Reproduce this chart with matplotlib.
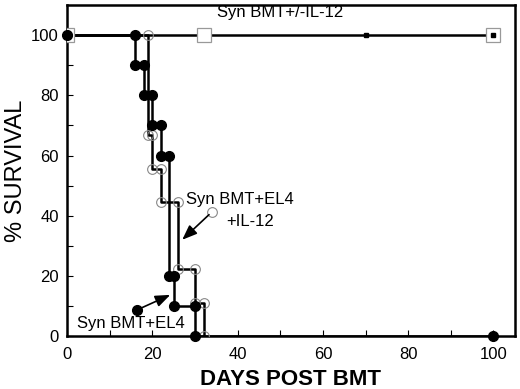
import matplotlib
matplotlib.use("Agg")
import matplotlib.pyplot as plt
import numpy as np

plt.rcParams['font.family'] = ['Liberation Sans', 'DejaVu Sans']

# Syn BMT+EL4 (filled circles)
el4_times = [0, 16, 18, 20, 22, 24, 25, 30, 100]
el4_surv = [100, 90, 80, 70, 60, 20, 10, 0, 0]

# Syn BMT+EL4+IL-12 (open circles)
il12_times = [0, 19, 20, 22, 26, 30, 32]
il12_surv = [100, 66.7, 55.6, 44.4, 22.2, 11.1, 0]

# Syn BMT +/- IL-12
syn_il12_days = [0, 32, 100]      # open squares
syn_days = [70, 100]              # small filled squares
syn_surv = 100

xticks = [0, 20, 40, 60, 80, 100]
yticks = [0, 20, 40, 60, 80, 100]

fig = plt.figure(figsize=(5.2, 3.89), dpi=100)
ax = fig.add_axes([0.129, 0.136, 0.861, 0.851])

def km_corners(t, s):
    xs, ys = [t[0]], [s[0]]
    for i in range(1, len(t)):
        xs += [t[i], t[i]]
        ys += [s[i - 1], s[i]]
    return xs, ys

# +/- IL-12 line
ax.plot([0, 100], [syn_surv, syn_surv], color='black', lw=1.8, zorder=2)
ax.plot(syn_il12_days, [syn_surv] * len(syn_il12_days), ls='none', marker='s',
        ms=10, mfc='white', mec='#999999', mew=0.9, zorder=3)
ax.plot(syn_days, [syn_surv] * len(syn_days), ls='none', marker='s',
        ms=3, color='black', zorder=4)

# IL-12 curve
ax.step(il12_times, il12_surv, where='post', color='black', lw=1.8, zorder=2)
cx, cy = km_corners(il12_times, il12_surv)
ax.plot(cx, cy, ls='none', marker='o', ms=7, mfc='none', mec='#888888',
        mew=0.8, zorder=3)

# EL4 curve
ax.step(el4_times, el4_surv, where='post', color='black', lw=1.8, zorder=2)
fx, fy = km_corners(el4_times[:-1], el4_surv[:-1])
fx.append(el4_times[-1]); fy.append(el4_surv[-1])
ax.plot(fx, fy, ls='none', marker='o', ms=7, color='black', zorder=4,
        clip_on=False)

# annotations
ax.text(50, 107.5, 'Syn BMT+/-IL-12', fontsize=12, ha='center', va='center')
ax.text(40.6, 45.3, 'Syn BMT+EL4', fontsize=12, ha='center', va='center')
ax.text(43, 38, '+IL-12', fontsize=12, ha='center', va='center')
ax.text(15, 4.3, 'Syn BMT+EL4', fontsize=12, ha='center', va='center')

ax.plot([34], [41.3], ls='none', marker='o', ms=7, mfc='none', mec='#888888', mew=0.8)
ax.annotate('', xy=(27, 32), xytext=(34, 41.3),
            arrowprops=dict(arrowstyle='-|>,head_length=0.9,head_width=0.35',
                            color='black', lw=1.2, shrinkA=3, shrinkB=0))
ax.plot([16.4], [8.7], ls='none', marker='o', ms=7, color='black')
ax.annotate('', xy=(24.2, 13.7), xytext=(16.4, 8.7),
            arrowprops=dict(arrowstyle='-|>,head_length=0.9,head_width=0.35',
                            color='black', lw=1.2, shrinkA=3, shrinkB=0))

ax.set_xlim(0, 105)
ax.set_ylim(0, 110)
ax.set_xticks(xticks)
ax.set_yticks(yticks)
ax.set_xticks(np.arange(10, 101, 20), minor=True)
ax.set_yticks(np.arange(10, 101, 20), minor=True)
ax.tick_params(which='both', direction='in', labelsize=12, width=0.8,
               top=False, right=False)
ax.tick_params(which='major', length=4)
ax.tick_params(axis='x', which='major', pad=8)
ax.tick_params(axis='y', which='major', pad=6)
ax.tick_params(which='minor', length=4)
for sp in ax.spines.values():
    sp.set_linewidth(1.8)

ax.set_xlabel('DAYS POST BMT', fontsize=16, fontweight='bold', labelpad=5)
ax.set_ylabel('% SURVIVAL', fontsize=17, labelpad=3)

fig.savefig('out.png', dpi=100)
